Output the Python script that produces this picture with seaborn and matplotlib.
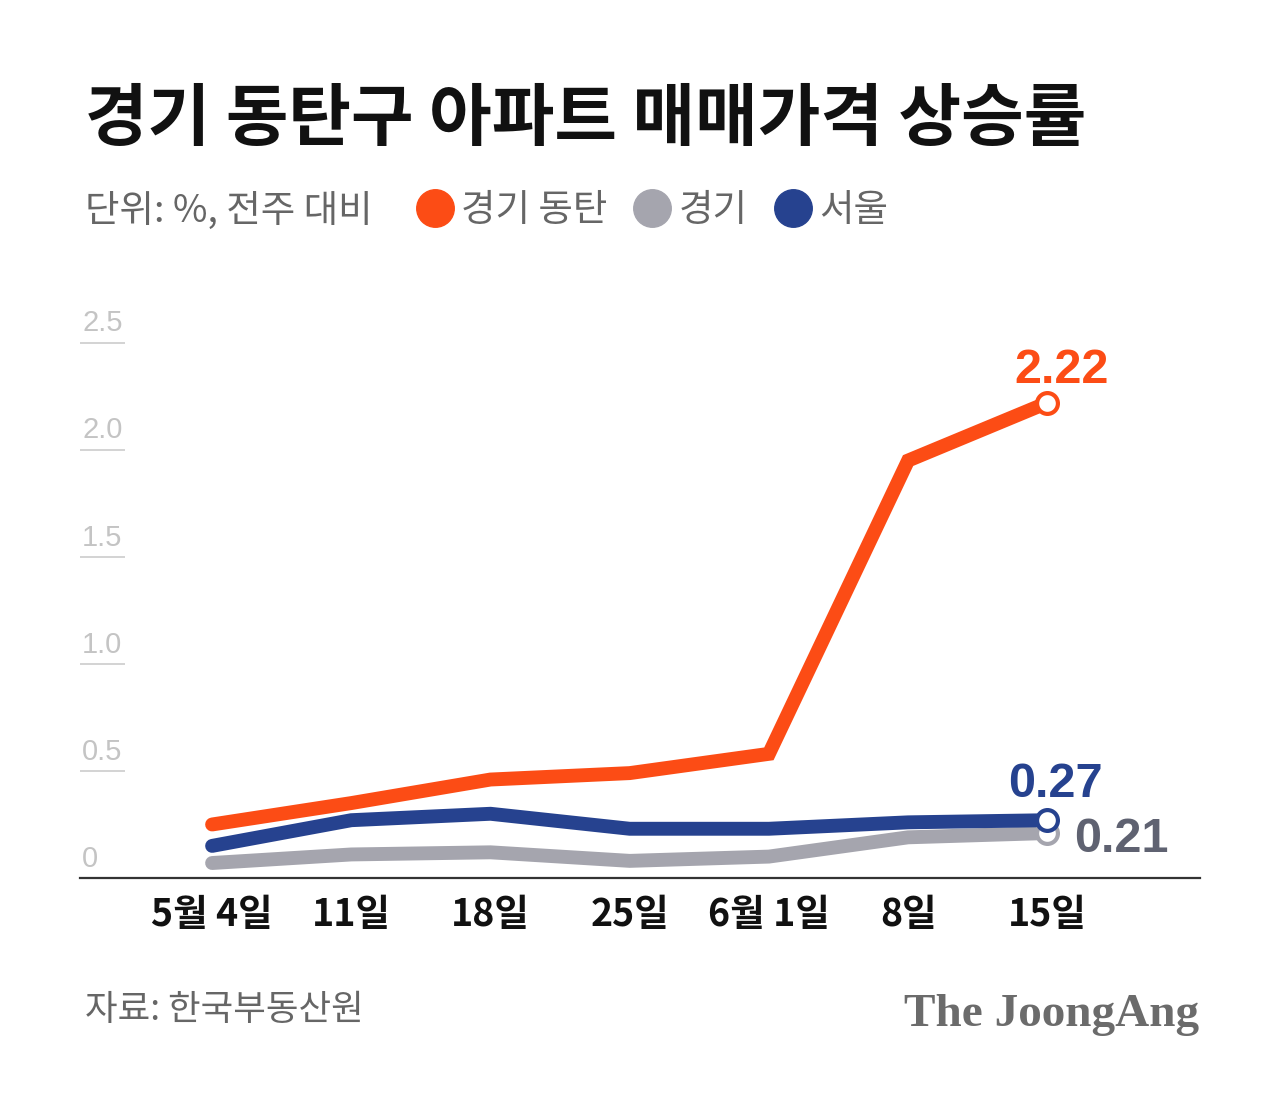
import matplotlib
matplotlib.use("Agg")
import matplotlib.pyplot as plt
import seaborn as sns
import pandas as pd
import numpy as np
from matplotlib.lines import Line2D

# ---- data ----
dates = ["5월 4일", "11일", "18일", "25일", "6월 1일", "8일", "15일"]
dongtan = [0.25, 0.35, 0.46, 0.49, 0.58, 1.95, 2.22]
gyeonggi = [0.07, 0.11, 0.12, 0.08, 0.10, 0.19, 0.21]
seoul = [0.15, 0.27, 0.30, 0.23, 0.23, 0.26, 0.27]
series_names = ["경기 동탄", "경기", "서울"]
y_ticks = [0, 0.5, 1.0, 1.5, 2.0, 2.5]
y_tick_labels = ["0", "0.5", "1.0", "1.5", "2.0", "2.5"]

colors = {"경기 동탄": "#FC4C15", "경기": "#A5A5AE", "서울": "#26428F"}
label_colors = {"경기 동탄": "#FC4C15", "경기": "#5F6271", "서울": "#26428F"}

sns.set_theme(style="white")
KR = ["Noto Sans CJK KR", "DejaVu Sans"]
NUM = ["Liberation Sans", "DejaVu Sans"]
plt.rcParams["font.family"] = KR

df = pd.DataFrame({
    "date": dates * 3,
    "x": list(range(len(dates))) * 3,
    "value": dongtan + gyeonggi + seoul,
    "series": [series_names[0]] * 7 + [series_names[1]] * 7 + [series_names[2]] * 7,
})

fig = plt.figure(figsize=(12.88, 10.96), dpi=100, facecolor="white")
ax = fig.add_axes([0.062, 1 - 878 / 1096, 0.87, 578 / 1096])
ax.set_facecolor("white")

order = ["경기", "서울", "경기 동탄"]
for name in order:
    sub = df[df["series"] == name]
    sns.lineplot(data=sub, x="x", y="value", ax=ax, color=colors[name],
                 linewidth=10, solid_capstyle="round", solid_joinstyle="miter",
                 clip_on=False, legend=False, zorder=3)
    ax.plot(sub["x"].iloc[-1], sub["value"].iloc[-1], marker="o", markersize=15,
            markerfacecolor="white", markeredgecolor=colors[name],
            markeredgewidth=3, clip_on=False, zorder=5)

ax.set_xlim(-0.95, 7.1)
ax.set_ylim(0, 2.7)

# value labels
last = len(dates) - 1
ax.annotate(f"{dongtan[-1]:.2f}", (last, dongtan[-1]), xytext=(10, 14), textcoords="offset points",
            ha="center", va="baseline", fontsize=35, fontweight="bold",
            color=label_colors["경기 동탄"], family=NUM)
ax.annotate(f"{seoul[-1]:.2f}", (last, seoul[-1]), xytext=(6, 17), textcoords="offset points",
            ha="center", va="baseline", fontsize=35, fontweight="bold",
            color=label_colors["서울"], family=NUM)
ax.annotate(f"{gyeonggi[-1]:.2f}", (last, gyeonggi[-1]), xytext=(19, -14), textcoords="offset points",
            ha="left", va="baseline", fontsize=35, fontweight="bold",
            color=label_colors["경기"], family=NUM)

# axes styling
for s in ["top", "right", "left"]:
    ax.spines[s].set_visible(False)
ax.spines["bottom"].set_color("#333333")
ax.spines["bottom"].set_linewidth(1.6)
ax.set_xticks(range(len(dates)))
ax.set_xticklabels(dates, fontsize=27, color="#111111", fontweight="bold")
ax.tick_params(axis="x", direction="in", length=9, width=1, color="#555555", pad=12)
ax.set_yticks([])
ax.set_xlabel("")
ax.set_ylabel("")
ax.grid(False)

# short y gridlines and labels
for v, lab in zip(y_ticks, y_tick_labels):
    if v > 0:
        ax.hlines(v, 0.0, 0.04, transform=ax.get_yaxis_transform(), color="#cccccc", linewidth=1.2, clip_on=False)
    ax.text(0.002, v + 0.025, lab, transform=ax.get_yaxis_transform(), ha="left", va="bottom",
            fontsize=21, color="#c4c4c4", family=NUM)

# title
fig.text(0.066, 1 - 120 / 1096, "경기 동탄구 아파트 매매가격 상승률", fontsize=49, fontweight="black",
         color="#111111", va="center", ha="left")
fig.text(0.066, 1 - 211 / 1096, "단위: %, 전주 대비", fontsize=27, fontweight="medium",
         color="#666666", va="center", ha="left")

# legend
handles = [Line2D([], [], linestyle="none", marker="o", markersize=27,
                  markerfacecolor=colors[n], markeredgecolor=colors[n]) for n in series_names]
leg = fig.legend(handles, series_names, loc="center left", bbox_to_anchor=(0.323, 1 - 211 / 1096),
                 ncol=3, frameon=False, handletextpad=0.2, columnspacing=0.7, handlelength=1.0,
                 borderpad=0, borderaxespad=0,
                 prop={"family": KR, "size": 27, "weight": "medium"})
for t in leg.get_texts():
    t.set_color("#666666")

# footer
fig.text(0.066, 1 - 1010 / 1096, "자료: 한국부동산원", fontsize=25.5, fontweight="medium",
         color="#666666", va="center", ha="left")
fig.text(0.931, 1 - 1015 / 1096, "The JoongAng", fontsize=34, fontweight="bold",
         color="#6b6b6b", va="center", ha="right", family=["Liberation Serif", "DejaVu Serif"])

fig.savefig("out.png", dpi=100, facecolor="white")
